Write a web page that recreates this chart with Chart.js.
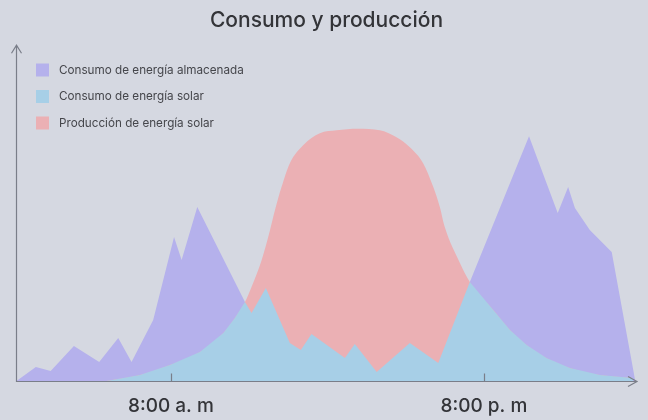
<!DOCTYPE html>
<html>
<head>
<meta charset="utf-8">
<script src="https://cdn.jsdelivr.net/npm/chart.js@4"></script>
<style>
  html, body { margin: 0; padding: 0; background: #d5d8e1; }
  #wrap { width: 648px; height: 420px; position: relative; }
</style>
</head>
<body>
<div id="wrap"><canvas id="chart"></canvas></div>
<script>
// hours of the day (2 = 2:00 a. m, 25 = 1:00 a. m next day), values in arbitrary units
const tickHours = [8, 20];
const tickLabels = ['8:00 a. m', '8:00 p. m'];

const seriesNames = ['Consumo de energía almacenada', 'Consumo de energía solar', 'Producción de energía solar'];

const storedHours = [2.08, 2.82, 3.39, 4.28, 5.25, 5.98, 6.49, 7.32, 8.12, 8.41, 9.01, 10.84, 11.09, 11.64, 12.56, 12.98, 13.39, 14.67, 15.05, 15.89, 17.16, 18.25, 19.46, 21.73, 22.83, 23.23, 23.49, 24.06, 24.90, 25.79];
const storedValues = [0, 14, 10, 35, 19, 43, 19, 61, 144, 121, 174, 79, 68, 93, 38, 31, 47, 23, 37, 9, 38, 18, 99, 245, 168, 194, 173, 151, 129, 2];

const solarUseHours = [5.53, 6.81, 7.96, 9.11, 10.01, 10.45, 10.84, 11.09, 11.64, 12.56, 12.98, 13.39, 14.67, 15.05, 15.89, 17.16, 18.25, 19.46, 20.36, 21.00, 21.64, 22.40, 23.30, 24.45, 25.72];
const solarUseValues = [0, 6, 16, 29, 48, 63, 79, 68, 93, 38, 31, 47, 23, 37, 9, 38, 18, 99, 71, 51, 36, 23, 13, 6, 3];

const productionHours = [5.53, 6.81, 7.96, 9.11, 10.01, 10.45, 10.84, 11.09, 11.48, 11.80, 11.99, 12.24, 12.56, 13.07, 13.71, 14.35, 15.17, 16.01, 16.65, 17.16, 17.67, 18.06, 18.31, 18.50, 19.08, 19.46, 20.36, 21.00, 21.64, 22.40, 23.30, 24.45, 25.72];
const productionValues = [0, 6, 16, 29, 48, 63, 79, 94, 121, 151, 171, 194, 218, 236, 248, 251, 252.5, 251, 244, 234, 218, 194, 174, 154, 118, 99, 71, 51, 36, 23, 13, 6, 3];

const BG = '#d5d8e1';
const AXIS_COLOR = '#7a7e89';
const TEXT_COLOR = '#333438';
const FONT = 'Inter, "Noto Sans", sans-serif';

const toPoints = (hours, values) => hours.map((h, i) => ({ x: h, y: values[i] }));

const background = {
  id: 'background',
  beforeDraw(chart) {
    const { ctx, width, height } = chart;
    ctx.save();
    ctx.fillStyle = BG;
    ctx.fillRect(0, 0, width, height);
    ctx.restore();
  }
};

// axes with arrow heads and inward tick marks
const axisArrows = {
  id: 'axisArrows',
  afterDatasetsDraw(chart) {
    const { ctx, chartArea: a, scales: { x } } = chart;
    const l = Math.round(a.left) + 0.5;
    const b = Math.round(a.bottom) + 0.5;
    ctx.save();
    ctx.strokeStyle = AXIS_COLOR;
    ctx.lineWidth = 1.2;
    ctx.beginPath();
    ctx.moveTo(l, a.top);
    ctx.lineTo(l, b);
    ctx.lineTo(a.right, b);
    ctx.moveTo(l - 5, a.top + 8);
    ctx.lineTo(l, a.top);
    ctx.lineTo(l + 5, a.top + 8);
    ctx.moveTo(a.right - 9, b - 5);
    ctx.lineTo(a.right, b);
    ctx.lineTo(a.right - 9, b + 5);
    tickHours.forEach(h => {
      const px = Math.round(x.getPixelForValue(h)) + 0.5;
      ctx.moveTo(px, b - 8);
      ctx.lineTo(px, b);
    });
    ctx.stroke();
    ctx.restore();
  }
};

// legend drawn inside the plot, top-left
const insideLegend = {
  id: 'insideLegend',
  afterDraw(chart) {
    const { ctx } = chart;
    ctx.save();
    ctx.font = '11.7px ' + FONT;
    ctx.textBaseline = 'middle';
    chart.data.datasets.forEach((ds, i) => {
      const y = 70 + i * 26.5;
      ctx.fillStyle = ds.backgroundColor;
      ctx.fillRect(36, y - 6.5, 13, 13);
      ctx.fillStyle = '#45464b';
      ctx.fillText(ds.label, 59, y);
    });
    ctx.restore();
  }
};

new Chart(document.getElementById('chart'), {
  type: 'line',
  data: {
    datasets: [
      {
        label: seriesNames[0],
        data: toPoints(storedHours, storedValues),
        backgroundColor: '#b5b1ec',
        fill: 'origin',
        order: 3,
        tension: 0
      },
      {
        label: seriesNames[1],
        data: toPoints(solarUseHours, solarUseValues),
        backgroundColor: '#a7cfe7',
        fill: 'origin',
        order: 1,
        tension: 0
      },
      {
        label: seriesNames[2],
        data: toPoints(productionHours, productionValues),
        backgroundColor: '#ebb0b4',
        fill: 'origin',
        order: 2,
        tension: 0.4,
        cubicInterpolationMode: 'monotone'
      }
    ]
  },
  options: {
    responsive: true,
    maintainAspectRatio: false,
    animation: false,
    // ticks.padding is counted twice in the axis height, hence the negative bottom padding
    layout: { padding: { left: 16, right: 11, top: 0, bottom: -11 } },
    elements: {
      point: { radius: 0, hoverRadius: 0 },
      line: { borderWidth: 0 }
    },
    scales: {
      x: {
        type: 'linear',
        min: 2.06,
        max: 25.87,
        grid: { display: false, drawTicks: false },
        border: { display: false },
        afterBuildTicks: (scale) => { scale.ticks = tickHours.map(v => ({ value: v })); },
        ticks: {
          autoSkip: false,
          maxRotation: 0,
          padding: 13.6,
          color: TEXT_COLOR,
          font: { family: FONT, size: 19, weight: '500' },
          callback: (value) => tickLabels[tickHours.indexOf(value)]
        }
      },
      y: {
        display: false,
        min: 0,
        max: 336
      }
    },
    plugins: {
      legend: { display: false },
      tooltip: { enabled: false },
      title: {
        display: true,
        text: 'Consumo y producción',
        color: TEXT_COLOR,
        font: { family: FONT, size: 21, weight: '500' },
        padding: { top: 8, bottom: 12 }
      }
    }
  },
  plugins: [background, axisArrows, insideLegend]
});
</script>
</body>
</html>
